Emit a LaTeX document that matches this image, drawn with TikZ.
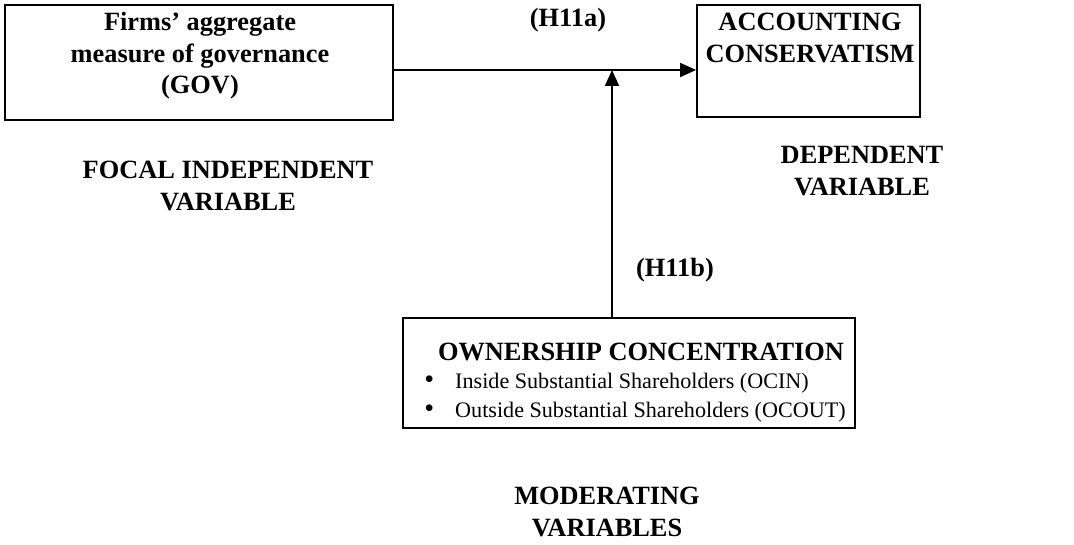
\documentclass[tikz,border=0pt]{standalone}
\usepackage{fontspec}
\setmainfont{Liberation Serif}
\usetikzlibrary{arrows.meta}

\begin{document}
\begin{tikzpicture}[x=0.02cm, y=-0.02cm]
\tikzset{frame/.style={draw, line width=1.1pt, inner sep=0pt},
  lbl/.style={font=\fontsize{15}{18}\selectfont\bfseries, align=center, inner sep=0pt},
  link/.style={line width=1.1pt, -{Triangle[length=0.32cm, width=0.28cm]}}}
\useasboundingbox (0,0) rectangle (1074,544);
\node[frame, minimum width=7.76cm, minimum height=2.3cm] (govbox) at (199,62.5) {};
\node[frame, minimum width=4.46cm, minimum height=2.24cm] (consbox) at (808.5,61) {};
\node[frame, minimum width=9.04cm, minimum height=2.2cm] (ownbox) at (629,373) {};
\node[lbl] (gov) at (200,56) {Firms' aggregate\\measure of governance\\(GOV)};
\node[lbl] (cons) at (810,38) {ACCOUNTING\\CONSERVATISM};
\node[lbl] (own) at (641,352) {OWNERSHIP CONCENTRATION};
\node[align=left, anchor=west, inner sep=0pt, font=\fontsize{12.6}{16.5}\selectfont] (items) at (424,397.5)
  {{\fontsize{16}{16}\selectfont\textbullet}\hspace{0.95em}Inside Substantial Shareholders (OCIN)\\
   {\fontsize{16}{16}\selectfont\textbullet}\hspace{0.95em}Outside Substantial Shareholders (OCOUT)};
\node[lbl] (focal) at (228,186) {FOCAL INDEPENDENT\\VARIABLE};
\node[lbl] (dep) at (862,171) {DEPENDENT\\VARIABLE};
\node[lbl] (mod) at (607,512) {MODERATING\\VARIABLES};
\node[lbl] (h11a) at (568,20) {(H11a)};
\node[lbl] (h11b) at (675,270) {(H11b)};
\coordinate (lev) at (612,70);
\draw[link] (govbox.east |- lev) -- (consbox.west |- lev);
\draw[link] (ownbox.north -| lev) -- (lev);
\end{tikzpicture}
\end{document}
